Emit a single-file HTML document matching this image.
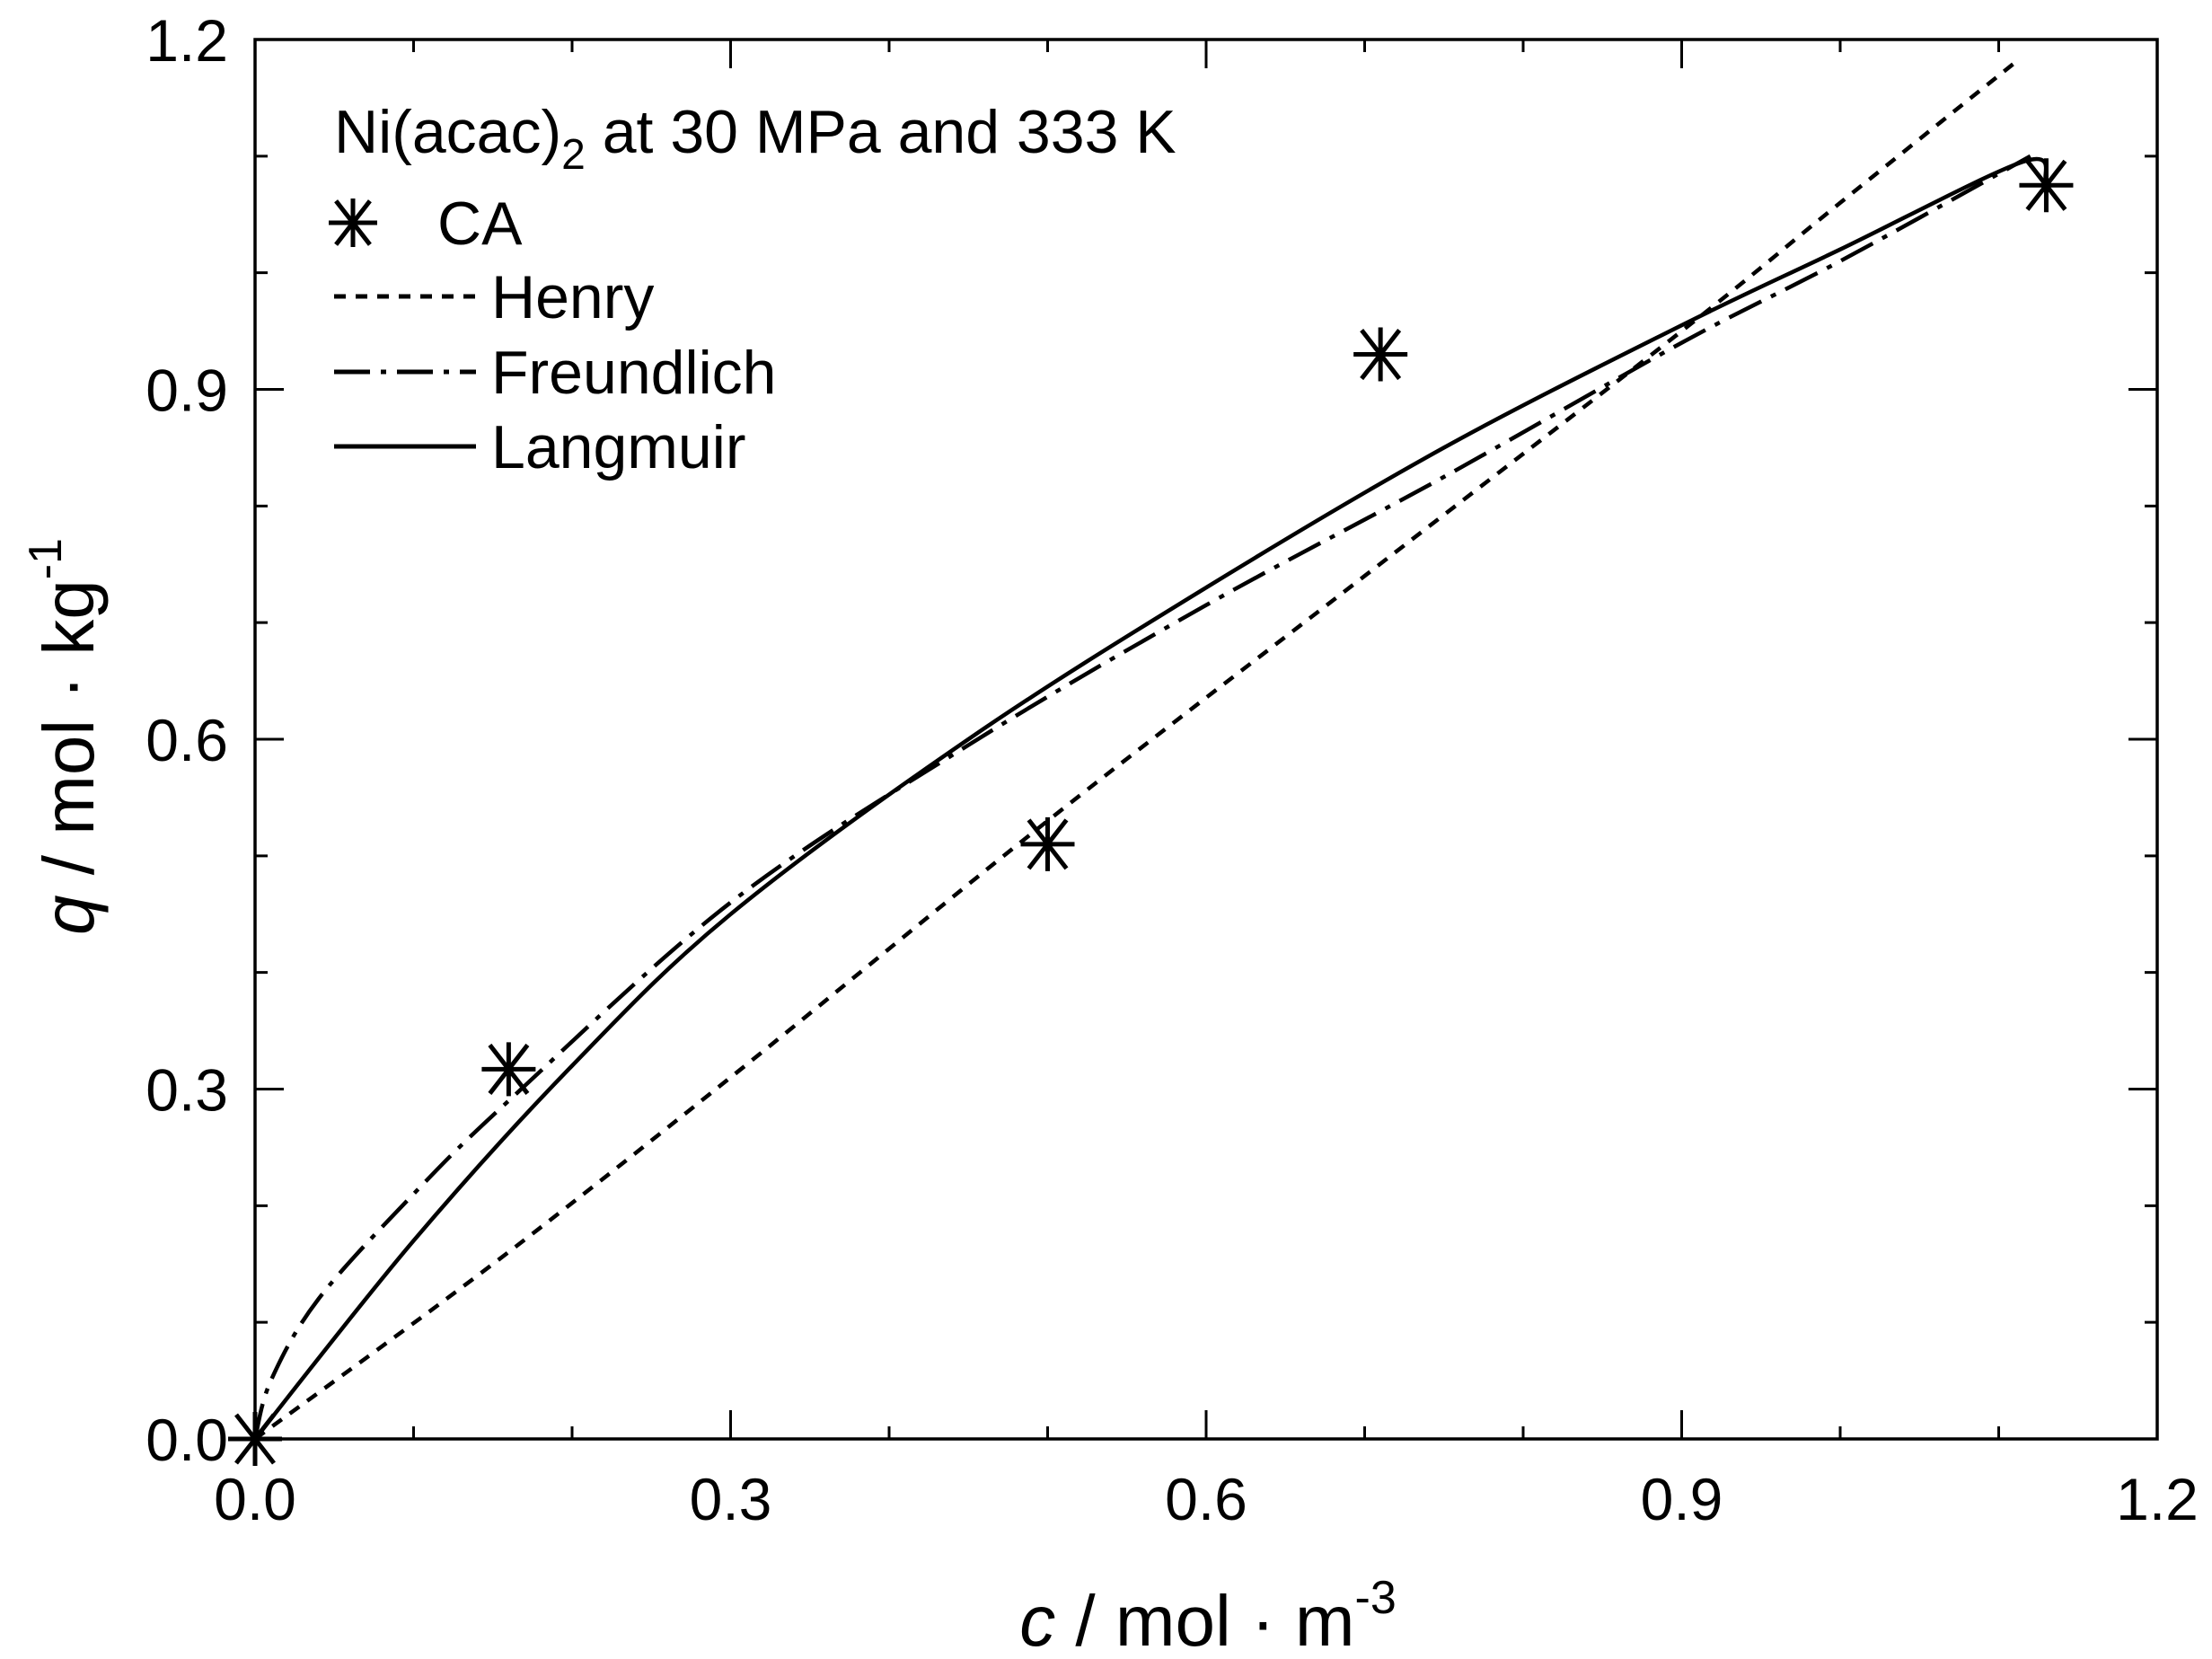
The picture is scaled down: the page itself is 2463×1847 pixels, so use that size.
<!DOCTYPE html>
<html><head><meta charset="utf-8"><style>
html,body{margin:0;padding:0;background:#fff}
svg{display:block;font-family:"Liberation Sans",Arial,sans-serif}
</style></head><body>
<svg id="chart" width="2463" height="1847" viewBox="0 0 2463 1847" xmlns="http://www.w3.org/2000/svg">
<g id="axes"></g><g id="series"></g><g id="legend"></g>
</svg>
<script>
const caC=[0,0.16,0.50,0.71,1.13];
const caQ=[0,0.317,0.51,0.93,1.075];
const henryC=[0,0.15,0.3,0.5,0.7,0.9,1.0,1.11];
const henryQ=[0,0.15,0.31,0.53,0.74,0.95,1.06,1.18];
const freC=[0,0.01,0.04,0.1,0.16,0.3,0.45,0.6,0.75,0.9,1.0,1.12];
const freQ=[0,0.05,0.12,0.21,0.29,0.46,0.595,0.715,0.825,0.94,1.01,1.1];
const lanC=[0,0.1,0.2,0.3,0.45,0.6,0.75,0.9,1.0,1.115,1.13];
const lanQ=[0,0.17,0.32,0.45,0.6,0.73,0.85,0.955,1.02,1.095,1.08];
const xTicks=["0.0","0.3","0.6","0.9","1.2"];
const yTicks=["0.0","0.3","0.6","0.9","1.2"];

const L=284,R=2402,T=44,B=1602;
const X=v=>L+(v/1.2)*(R-L), Y=v=>B-(v/1.2)*(B-T);
const NS="http://www.w3.org/2000/svg";
function mk(tag,attrs,parent,text){const e=document.createElementNS(NS,tag);for(const k in attrs)e.setAttribute(k,attrs[k]);if(text!==undefined)e.textContent=text;parent.appendChild(e);return e;}
const axes=document.getElementById('axes'),ser=document.getElementById('series'),leg=document.getElementById('legend');

const frame=mk('rect',{x:L,y:T,width:R-L,height:B-T,fill:'none',stroke:'#000','stroke-width':3.5},axes);


for(let i=0;i<=12;i++){
  const v=i/10,maj=i%3===0,len=maj?32:14;
  const tb=mk('path',{d:`M${X(v)},${B}v${-len}M${X(v)},${T}v${len}M${L},${Y(v)}h${len}M${R},${Y(v)}h${-len}`,stroke:'#000','stroke-width':3,fill:'none'},axes);
  
  
}
xTicks.forEach(s=>{const t=mk('text',{x:X(+s),y:1692,'font-size':66,'text-anchor':'middle'},axes,s);
  
  });
yTicks.forEach(s=>{const t=mk('text',{x:254,y:Y(+s)+24,'font-size':66,'text-anchor':'end'},axes,s);
  
  });
const xt=mk('text',{x:1345,y:1832,'font-size':80,'text-anchor':'middle'},axes);


xt.innerHTML='<tspan font-style="italic">c</tspan> / mol · m<tspan dy="-36" font-size="52">-3</tspan>';
const yt=mk('text',{x:0,y:0,'font-size':80,'text-anchor':'middle',transform:'translate(104,820) rotate(-90)'},axes);


yt.innerHTML='<tspan font-style="italic">q</tspan> / mol · kg<tspan dy="-36" font-size="52">-1</tspan>';

function smooth(pts){
  let d='M'+pts[0][0].toFixed(1)+','+pts[0][1].toFixed(1);
  for(let i=0;i<pts.length-1;i++){
    const p0=pts[Math.max(0,i-1)],p1=pts[i],p2=pts[i+1],p3=pts[Math.min(pts.length-1,i+2)];
    const c1=[p1[0]+(p2[0]-p0[0])/6,p1[1]+(p2[1]-p0[1])/6],c2=[p2[0]-(p3[0]-p1[0])/6,p2[1]-(p3[1]-p1[1])/6];
    d+=`C${c1[0].toFixed(1)},${c1[1].toFixed(1)} ${c2[0].toFixed(1)},${c2[1].toFixed(1)} ${p2[0].toFixed(1)},${p2[1].toFixed(1)}`;
  }
  return d;
}
function line(cs,qs,dash,name){
  const d=smooth(cs.map((c,i)=>[X(c),Y(qs[i])]));
  const p=mk('path',{d,fill:'none',stroke:'#000','stroke-width':4.5,'stroke-dasharray':dash},ser);
  
  
}
line(henryC,henryQ,'13 11','henry-line');
line(freC,freQ,'40 12 6 12','freundlich-line');
line(lanC,lanQ,'none','langmuir-line');
function star(cx,cy,r,parent){
  return mk('path',{d:`M${cx-r},${cy}H${cx+r}M${cx},${cy-r}V${cy+r}M${cx-r*0.7},${cy-r*0.9}L${cx+r*0.7},${cy+r*0.9}M${cx+r*0.7},${cy-r*0.9}L${cx-r*0.7},${cy+r*0.9}`,stroke:'#000','stroke-width':5,fill:'none'},parent);
}
caC.forEach((c,i)=>{const s=star(X(c),Y(caQ[i]),30,ser);
  
  });

const lt=mk('text',{x:372,y:170,'font-size':68},leg);


lt.innerHTML='Ni(acac)<tspan dy="18" font-size="48">2</tspan><tspan dy="-18"> at 30 MPa and 333 K</tspan>';
const ls=star(393,248,27,leg);


const lca=mk('text',{x:487,y:272,'font-size':68},leg,'CA');


[['Henry','13 11',330],['Freundlich','40 12 6 12',414],['Langmuir','none',497]].forEach(([n,d,y])=>{
  const p=mk('path',{d:`M372,${y}H530`,stroke:'#000','stroke-width':5,'stroke-dasharray':d},leg);
  
  
  const t=mk('text',{x:547,y:y+24,'font-size':68},leg,n);
  
  
});
</script>
</body></html>
